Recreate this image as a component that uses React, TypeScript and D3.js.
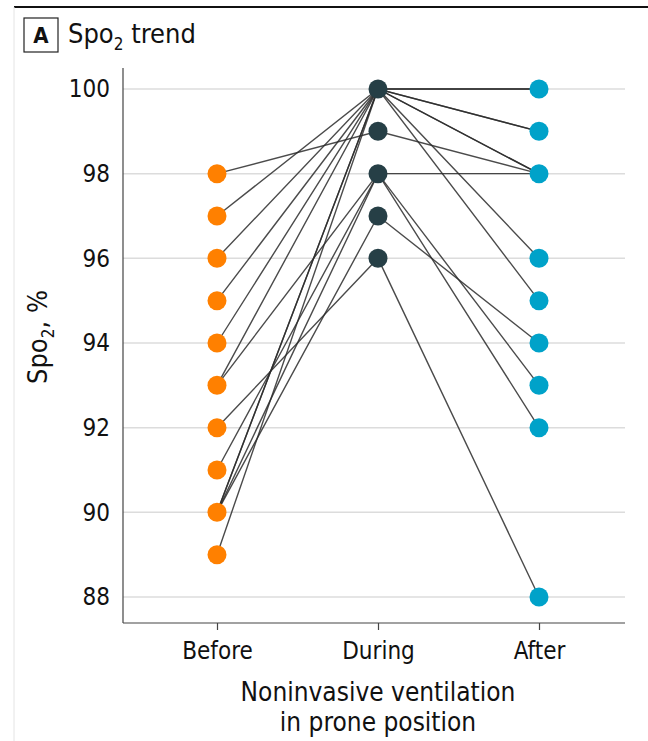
import React, { useEffect, useRef } from 'react';
import * as d3 from 'd3';

// one row per patient: SpO2 before, during and after prone NIV
const beforeVals = [98, 97, 96, 95, 94, 93, 93, 92, 91, 90, 90, 90, 90, 89];
const duringVals = [99, 100, 100, 100, 100, 100, 98, 96, 98, 97, 100, 100, 98, 100];
const afterVals = [98, 100, 99, 98, 96, 95, 98, 88, 93, 94, 100, 99, 92, 98];

const phases = ['Before', 'During', 'After'];
const phaseColors = ['#ff8000', '#263f46', '#00a2c9'];
const yTicks = [88, 90, 92, 94, 96, 98, 100];

const FONT = "'Liberation Sans Narrow', 'DejaVu Sans Condensed', 'Roboto Condensed', sans-serif";

const App = () => {
    const svgRef = useRef<SVGSVGElement>(null);

    useEffect(() => {
        drawChart();
    }, []);

    const drawChart = () => {
        const svg = d3.select(svgRef.current);
        svg.selectAll('*').remove();

        const plotLeft = 123;
        const plotRight = 625;
        const plotBottom = 623;

        const x = d3.scalePoint<string>().domain(phases).range([217, 539]);
        const y = d3.scaleLinear().domain([88, 100]).range([597, 89]);

        // frame: top rule and faint left border
        svg.append('line')
            .attr('x1', 14).attr('x2', 648).attr('y1', 7).attr('y2', 7)
            .attr('stroke', '#111').attr('stroke-width', 2);
        svg.append('line')
            .attr('x1', 14).attr('x2', 14).attr('y1', 7).attr('y2', 741)
            .attr('stroke', '#e4e4e4').attr('stroke-width', 1);

        // panel label
        svg.append('rect')
            .attr('x', 24).attr('y', 18).attr('width', 34).attr('height', 34)
            .attr('fill', 'none').attr('stroke', '#222').attr('stroke-width', 1.2);
        svg.append('text')
            .attr('x', 41).attr('y', 43).attr('text-anchor', 'middle')
            .attr('font-family', FONT).attr('font-weight', 'bold').attr('font-size', 22)
            .attr('fill', '#111').text('A');
        const title = svg.append('text')
            .attr('x', 68).attr('y', 43)
            .attr('font-family', FONT).attr('font-size', 27).attr('fill', '#111');
        title.append('tspan').text('Spo');
        title.append('tspan').attr('font-size', 17).attr('dy', 7).text('2');
        title.append('tspan').attr('dy', -7).text(' trend');

        // gridlines
        svg.append('g')
            .selectAll('line')
            .data(yTicks)
            .enter()
            .append('line')
            .attr('x1', plotLeft).attr('x2', plotRight)
            .attr('y1', d => y(d)).attr('y2', d => y(d))
            .attr('stroke', '#dcdcdc').attr('stroke-width', 1.5);

        // axes
        const yAxis = d3.axisLeft(y).tickValues(yTicks).tickSize(0).tickPadding(13);
        const yg = svg.append('g')
            .attr('transform', `translate(${plotLeft},0)`)
            .call(yAxis);
        yg.select('.domain').remove();
        yg.selectAll('text')
            .attr('font-family', FONT).attr('font-size', 24).attr('fill', '#111');

        svg.append('line')
            .attr('x1', plotLeft).attr('x2', plotLeft).attr('y1', 68).attr('y2', plotBottom)
            .attr('stroke', '#444').attr('stroke-width', 1.2);
        svg.append('line')
            .attr('x1', plotLeft).attr('x2', plotRight).attr('y1', plotBottom).attr('y2', plotBottom)
            .attr('stroke', '#444').attr('stroke-width', 1.2);

        const xAxis = d3.axisBottom(x).tickSize(7).tickPadding(12);
        const xg = svg.append('g')
            .attr('transform', `translate(0,${plotBottom})`)
            .call(xAxis);
        xg.select('.domain').remove();
        xg.selectAll('line').attr('stroke', '#444').attr('stroke-width', 1.2);
        xg.selectAll('text')
            .attr('font-family', FONT).attr('font-size', 24).attr('fill', '#111');

        // axis titles
        const xt = svg.append('text')
            .attr('text-anchor', 'middle')
            .attr('font-family', FONT).attr('font-size', 26).attr('fill', '#111');
        xt.append('tspan').attr('x', 378).attr('y', 701).text('Noninvasive ventilation');
        xt.append('tspan').attr('x', 378).attr('y', 731).text('in prone position');

        const yt = svg.append('text')
            .attr('transform', `translate(47,337) rotate(-90)`)
            .attr('text-anchor', 'middle')
            .attr('font-family', FONT).attr('font-size', 27).attr('fill', '#111');
        yt.append('tspan').text('Spo');
        yt.append('tspan').attr('font-size', 17).attr('dy', 7).text('2');
        yt.append('tspan').attr('dy', -7).text(', %');

        // patient lines
        const rows = beforeVals.map((b, i) => [b, duringVals[i], afterVals[i]]);
        const line = d3.line<number>()
            .x((_, i) => x(phases[i]) as number)
            .y(d => y(d));
        svg.append('g')
            .selectAll('path')
            .data(rows)
            .enter()
            .append('path')
            .attr('d', d => line(d))
            .attr('fill', 'none')
            .attr('stroke', '#2b2b2b')
            .attr('stroke-opacity', 0.85)
            .attr('stroke-width', 1.4);

        // points
        [beforeVals, duringVals, afterVals].forEach((vals, pi) => {
            const uniq = Array.from(new Set(vals));
            svg.append('g')
                .selectAll('circle')
                .data(uniq)
                .enter()
                .append('circle')
                .attr('cx', x(phases[pi]) as number)
                .attr('cy', d => y(d))
                .attr('r', 9.5)
                .attr('fill', phaseColors[pi]);
        });
    };

    return (
        <svg
            ref={svgRef}
            width={648}
            height={741}
            style={{ position: 'absolute', left: 0, top: 0, background: '#fff' }}
        ></svg>
    );
};

export default App;
